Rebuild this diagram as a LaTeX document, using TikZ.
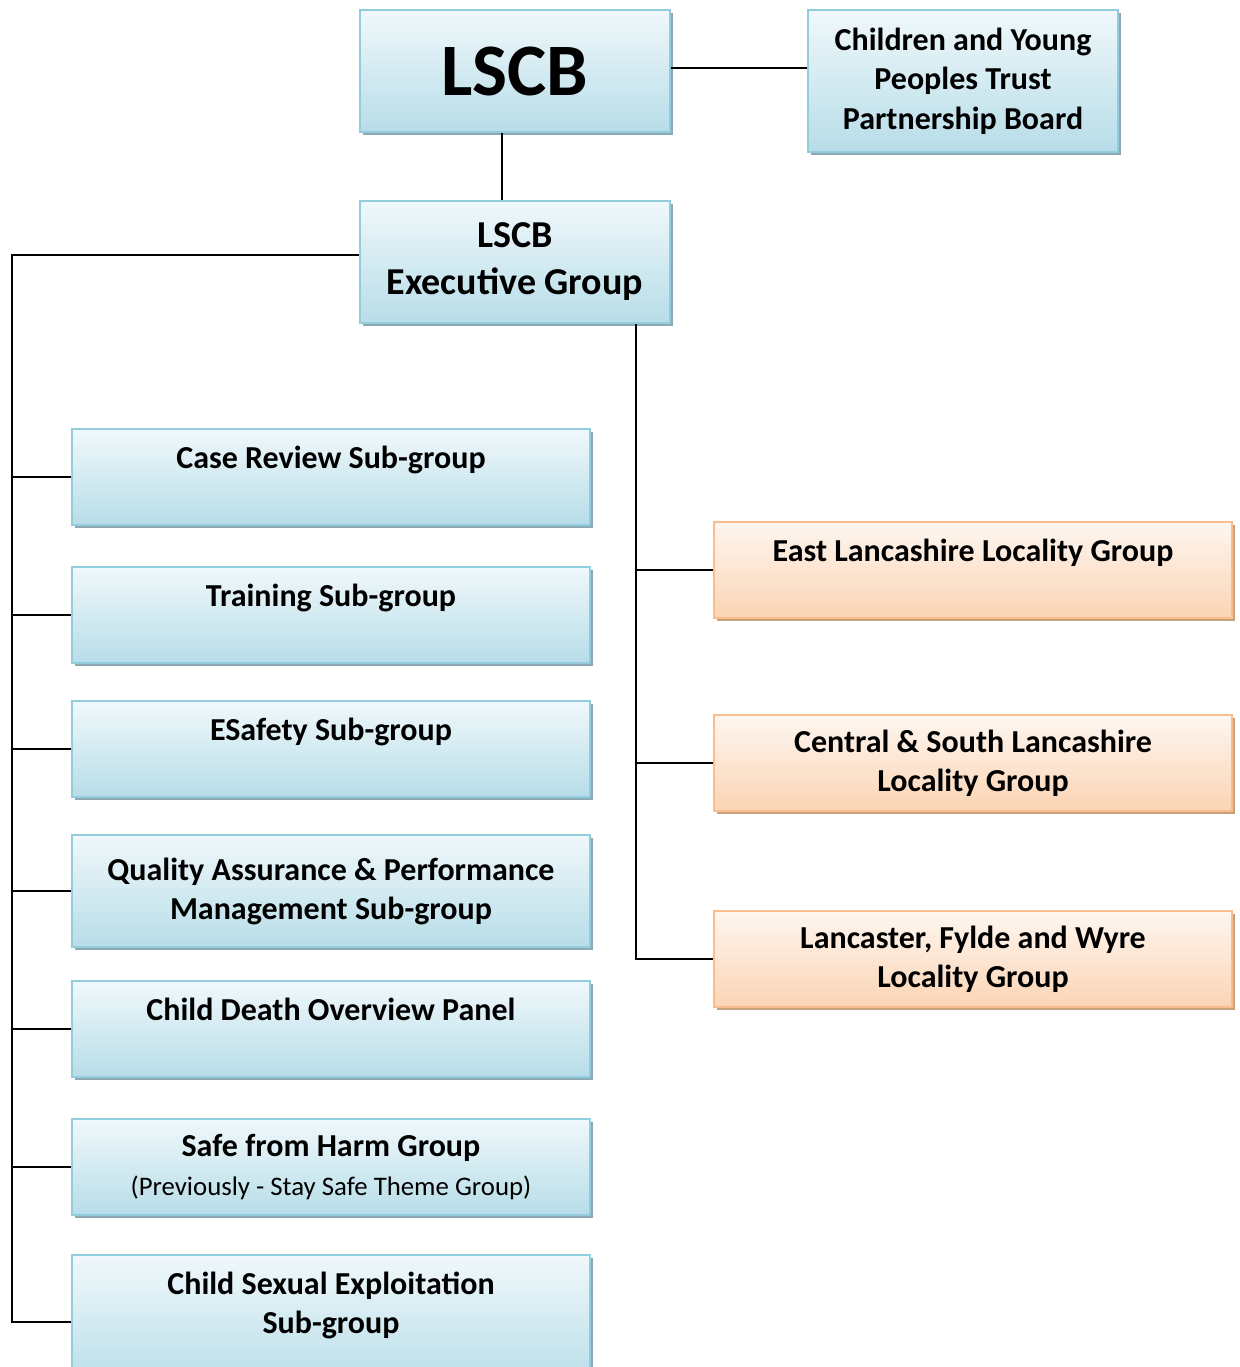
\documentclass[tikz,border=0pt]{standalone}
\usepackage{fontspec}
\setmainfont{Carlito}
\usetikzlibrary{shadows}
\definecolor{topblue}{RGB}{240,248,251}
\definecolor{botblue}{RGB}{183,221,232}
\definecolor{lineblue}{RGB}{147,205,221}
\definecolor{shadeblue}{RGB}{140,168,178}
\definecolor{toporange}{RGB}{254,246,240}
\definecolor{botorange}{RGB}{251,212,180}
\definecolor{lineorange}{RGB}{249,190,143}
\definecolor{shadeorange}{RGB}{200,160,124}
\begin{document}
\begin{tikzpicture}[x=0.5pt, y=-0.5pt,
    card/.style ={line width=1pt, align=center, minimum width=259pt, minimum height=48pt,
      font=\bfseries\fontsize{16}{19.5}\selectfont},
    bluecard/.style ={card, draw=lineblue, top color=topblue, bottom color=botblue,
      drop shadow={shadow xshift=1.5pt, shadow yshift=-1.5pt, fill=shadeblue, opacity=1}},
    orangecard/.style ={card, draw=lineorange, top color=toporange, bottom color=botorange,
      drop shadow={shadow xshift=1.5pt, shadow yshift=-1.5pt, fill=shadeorange, opacity=1}},
    link/.style ={line width=1pt}]
   \useasboundingbox (0,0) rectangle (1240,1367);

   \node[bluecard, minimum width=155pt, minimum height=61pt,
     font=\bfseries\fontsize{37}{46}\selectfont] (lscb) at (515,71) {LSCB};
   \node[bluecard, minimum width=155pt, minimum height=71pt,
     font=\bfseries\fontsize{16}{19.75}\selectfont] (cyp) at (963,81)
     {Children and Young\\Peoples Trust\\Partnership Board};
   \node[bluecard, minimum width=155pt, minimum height=61pt,
     font=\bfseries\fontsize{19}{23.5}\selectfont] (exec) at (515,262) {LSCB\\Executive Group};

   \node[bluecard] (case)  at (331,477)  {Case Review Sub-group\\\mbox{}};
   \node[bluecard] (train) at (331,615)  {Training Sub-group\\\mbox{}};
   \node[bluecard] (esafe) at (331,749)  {ESafety Sub-group\\\mbox{}};
   \node[bluecard, minimum height=56pt] (qa) at (331,891)
     {Quality Assurance \& Performance\\Management Sub-group};
   \node[bluecard] (cdop)  at (331,1029) {Child Death Overview Panel\\\mbox{}};
   \node[bluecard] (harm)  at (331,1167)
     {Safe from Harm Group\\{\mdseries\fontsize{13.4}{17.5}\selectfont (Previously - Stay Safe Theme Group)}};
   \node[bluecard, minimum height=67pt] (cse) at (331,1322)
     {Child Sexual Exploitation\\Sub-group\\\mbox{}};

   \node[orangecard] (east)    at (973,570) {East Lancashire Locality Group\\\mbox{}};
   \node[orangecard] (central) at (973,763) {Central \& South Lancashire\\Locality Group};
   \node[orangecard] (lanc)    at (973,959) {Lancaster, Fylde and Wyre\\Locality Group};

   \coordinate (tl) at (12,255);
   \coordinate (tr) at ([xshift=60.5pt]exec.south);

   \draw[link] ([yshift=1.5pt]lscb.east) to ([yshift=1.5pt]lscb.east -| cyp.west);
   \draw[link] ([xshift=-6.5pt]lscb.south) to ([xshift=-6.5pt]exec.north);
   \draw[link] ([yshift=3.5pt]exec.west) -- (tl) -- (cse.west -| tl) -- (cse.west);
   \foreach \n in {case,train,esafe,qa,cdop,harm}
     \draw[link] (\n.west) to (\n.west -| tl);
   \draw[link] (tr) -- (lanc.west -| tr) -- (lanc.west);
   \foreach \n in {east,central}
     \draw[link] (\n.west) to (\n.west -| tr);
 \end{tikzpicture}
\end{document}
